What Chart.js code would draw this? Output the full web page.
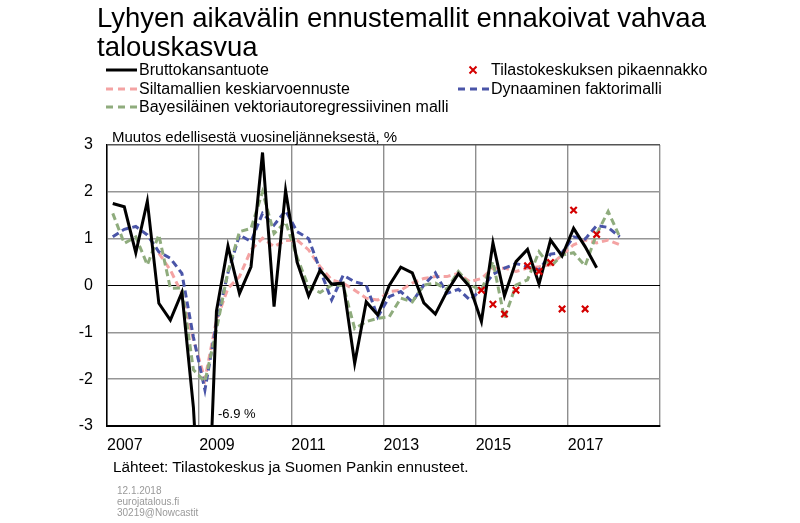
<!DOCTYPE html>
<html>
<head>
<meta charset="utf-8">
<script src="https://cdn.jsdelivr.net/npm/chart.js@4"></script>
<style>
  body { margin: 0; background: #fff; font-family: "Liberation Sans", Arial, sans-serif; }
  #wrap { position: relative; width: 800px; height: 523px; overflow: hidden; }
  #chart { position: absolute; left: 0; top: 0; }
  .t { position: absolute; white-space: nowrap; color: #000; }
  .title { left: 97px; top: 3px; font-size: 27.5px; line-height: 29px; }
  .leg { font-size: 16px; line-height: 18px; }
  .note { font-size: 15px; line-height: 18px; }
  .foot { left: 117px; top: 485px; font-size: 10px; line-height: 11px; color: #9a9a9a; }
  svg { position: absolute; overflow: visible; }
</style>
</head>
<body>
<div id="wrap">
  <canvas id="chart" width="800" height="523"></canvas>

  <div class="t title">Lyhyen aikavälin ennustemallit ennakoivat vahvaa<br>talouskasvua</div>

  <svg style="left:106px;top:70px" width="32" height="2"><line x1="0" y1="0" x2="31" y2="0" stroke="#000" stroke-width="3"/></svg>
  <div class="t leg" style="left:139px;top:61px">Bruttokansantuote</div>
  <svg style="left:106px;top:89px" width="32" height="2"><line x1="0" y1="0" x2="31" y2="0" stroke="#f4a3a3" stroke-width="3" stroke-dasharray="7 5"/></svg>
  <div class="t leg" style="left:139px;top:80px">Siltamallien keskiarvoennuste</div>
  <svg style="left:106px;top:107px" width="32" height="2"><line x1="0" y1="0" x2="31" y2="0" stroke="#8fac7d" stroke-width="3" stroke-dasharray="7 5"/></svg>
  <div class="t leg" style="left:139px;top:98px">Bayesiläinen vektoriautoregressiivinen malli</div>

  <svg style="left:469px;top:66px" width="9" height="9"><path d="M0.5 0.5 L7.5 7.5 M7.5 0.5 L0.5 7.5" stroke="#d40000" stroke-width="2"/></svg>
  <div class="t leg" style="left:491px;top:61px">Tilastokeskuksen pikaennakko</div>
  <svg style="left:458px;top:89px" width="32" height="2"><line x1="0" y1="0" x2="31" y2="0" stroke="#4a55a8" stroke-width="3" stroke-dasharray="7 5"/></svg>
  <div class="t leg" style="left:491px;top:80px">Dynaaminen faktorimalli</div>

  <div class="t note" style="left:112px;top:128px">Muutos edellisestä vuosineljänneksestä, %</div>
  <div class="t" style="left:218px;top:406px;font-size:13px;line-height:15px">-6.9 %</div>
  <div class="t note" style="left:113px;top:458px;font-size:15.3px">Lähteet: Tilastokeskus ja Suomen Pankin ennusteet.</div>
  <div class="t foot">12.1.2018<br>eurojatalous.fi<br>30219@Nowcastit</div>
</div>

<script>
// quarters 2007Q1 .. 2018Q1
var quarters = ['2007Q1','2007Q2','2007Q3','2007Q4','2008Q1','2008Q2','2008Q3','2008Q4',
  '2009Q1','2009Q2','2009Q3','2009Q4','2010Q1','2010Q2','2010Q3','2010Q4',
  '2011Q1','2011Q2','2011Q3','2011Q4','2012Q1','2012Q2','2012Q3','2012Q4',
  '2013Q1','2013Q2','2013Q3','2013Q4','2014Q1','2014Q2','2014Q3','2014Q4',
  '2015Q1','2015Q2','2015Q3','2015Q4','2016Q1','2016Q2','2016Q3','2016Q4',
  '2017Q1','2017Q2','2017Q3','2017Q4','2018Q1'];

var gdp = [1.75, 1.68, 0.7, 1.8, -0.38, -0.74, -0.15, -2.6,
  -6.9, -0.55, 0.84, -0.17, 0.4, 2.84, -0.45, 2.03,
  0.5, -0.22, 0.33, 0.03, 0.05, -1.66, -0.35, -0.63,
  0.0, 0.39, 0.27, -0.37, -0.61, -0.13, 0.25, -0.03,
  -0.77, 0.91, -0.22, 0.51, 0.77, 0.03, 0.97, 0.63,
  1.22, 0.83, 0.38, null, null];

var bridge = [null, null, null, null, 0.69, 0.33, -0.17, -1.16,
  -2.0, -0.74, -0.06, 0.19, 0.76, 1.01, 0.83, 0.96,
  0.97, 0.76, 0.4, 0.12, 0.05, -0.1, -0.27, -0.31,
  -0.13, -0.1, 0.05, 0.15, 0.19, 0.19, 0.26, 0.08,
  0.15, 0.37, 0.37, 0.3, 0.37, 0.4, 0.44, 0.65,
  0.87, 0.97, 0.91, 0.97, 0.87];

var bvar = [1.54, 0.9, 1.04, 0.44, 1.08, -0.06, -0.05, -1.8,
  -2.05, -0.95, 0.3, 1.15, 1.22, 2.0, 1.11, 1.36,
  0.6, -0.03, -0.15, 0.01, 0.0, -0.92, -0.77, -0.7,
  -0.67, -0.27, -0.35, 0.01, 0.05, -0.08, 0.3, 0.01,
  -0.1, 0.51, -0.7, 0.01, 0.12, 0.72, 0.4, 0.65,
  0.7, 0.42, 1.1, 1.58, 1.04];

var dfm = [1.04, 1.2, 1.26, 1.08, 0.72, 0.58, 0.26, -1.1,
  -2.23, -0.8, 0.27, 1.08, 0.94, 1.54, 1.29, 1.6,
  1.15, 1.0, 0.33, -0.31, 0.22, 0.08, 0.01, -0.67,
  -0.24, -0.13, -0.35, 0.01, 0.27, -0.17, -0.08, -0.31,
  -0.08, 0.24, 0.37, 0.47, 0.4, 0.33, 0.67, 0.7,
  1.04, 0.99, 1.28, 1.24, 1.04];

var flash = [null, null, null, null, null, null, null, null,
  null, null, null, null, null, null, null, null,
  null, null, null, null, null, null, null, null,
  null, null, null, null, null, null, null, null,
  -0.1, -0.4, -0.61, -0.1, 0.42, 0.3, 0.49, -0.5,
  1.61, -0.5, 1.09, null, null];

var yearTicks = [2007, 2009, 2011, 2013, 2015, 2017, 2019];
var yTicks = [-3, -2, -1, 0, 1, 2, 3];

function toPoints(arr) {
    return arr.map(function (v, i) {
        var q = quarters[i];
        var x = parseInt(q.substr(0, 4), 10) + (parseInt(q.substr(5, 1), 10) - 0.5) / 4;
        return { x: x, y: v };
    });
}

var font = "'Liberation Sans', Arial, sans-serif";

new Chart(document.getElementById('chart'), {
    type: 'line',
    data: {
        datasets: [
            { label: 'Tilastokeskuksen pikaennakko', data: toPoints(flash), showLine: false,
              pointStyle: 'crossRot', pointRadius: 4.5, pointBorderWidth: 2.2,
              borderColor: '#d40000', backgroundColor: '#d40000', order: 0 },
            { label: 'Bruttokansantuote', data: toPoints(gdp), borderColor: '#000',
              borderWidth: 3, pointRadius: 0, order: 1 },
            { label: 'Bayesiläinen vektoriautoregressiivinen malli', data: toPoints(bvar),
              borderColor: '#8fac7d', borderWidth: 3, borderDash: [7, 4], pointRadius: 0, order: 2 },
            { label: 'Dynaaminen faktorimalli', data: toPoints(dfm),
              borderColor: '#4a55a8', borderWidth: 3, borderDash: [7, 4], pointRadius: 0, order: 3 },
            { label: 'Siltamallien keskiarvoennuste', data: toPoints(bridge),
              borderColor: '#f4a3a3', borderWidth: 3, borderDash: [7, 4], pointRadius: 0, order: 4 }
        ]
    },
    options: {
        responsive: false,
        animation: false,
        layout: { padding: { left: 0, top: 145, right: 140, bottom: 0 } },
        plugins: { legend: { display: false }, tooltip: { enabled: false } },
        elements: { line: { tension: 0, borderJoinStyle: 'miter' } },
        scales: {
            x: {
                type: 'linear', min: 2007, max: 2019,
                afterFit: function (s) { s.height = 97; },
                afterBuildTicks: function (s) { s.ticks = yearTicks.map(function (v) { return { value: v }; }); },
                ticks: {
                    align: 'start', padding: 10, color: '#000', maxRotation: 0, autoSkip: false,
                    font: { family: font, size: 16 },
                    callback: function (v) { return v < 2019 ? String(v) : ''; }
                },
                grid: { color: '#8e8e8e', lineWidth: 1.4, drawTicks: false },
                border: { color: '#000', width: 2 }
            },
            y: {
                min: -3, max: 3,
                afterFit: function (s) { s.width = 107; },
                afterBuildTicks: function (s) { s.ticks = yTicks.map(function (v) { return { value: v }; }); },
                ticks: { padding: 14, color: '#000', font: { family: font, size: 16 } },
                grid: {
                    drawTicks: false,
                    color: function (c) {
                        if (c.tick.value === 0) return '#000';
                        if (c.tick.value === 3) return '#555';
                        return '#969696';
                    },
                    lineWidth: function (c) { return c.tick.value === 0 ? 1 : 1.5; }
                },
                border: { color: '#000', width: 1.5 }
            }
        }
    }
});
</script>
</body>
</html>
